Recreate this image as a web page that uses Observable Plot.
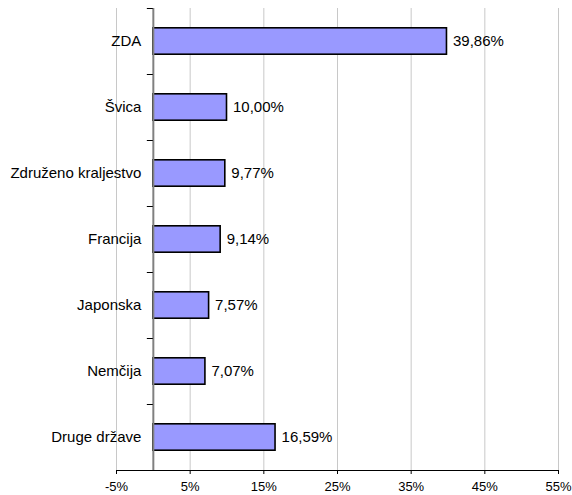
<!DOCTYPE html>
<html>
<head>
<meta charset="utf-8">
<script src="https://cdn.jsdelivr.net/npm/d3@7"></script>
<script src="https://cdn.jsdelivr.net/npm/@observablehq/plot@0.6"></script>
<style>
  html, body { margin: 0; padding: 0; background: #fff; }
  svg { display: block; }
</style>
</head>
<body>
<div id="chart"></div>
<script>
const countries = ["ZDA", "Švica", "Združeno kraljestvo", "Francija", "Japonska", "Nemčija", "Druge države"];
const shares = [39.86, 10.00, 9.77, 9.14, 7.57, 7.07, 16.59];
const xTicks = [-5, 5, 15, 25, 35, 45, 55];

const data = countries.map((c, i) => ({ name: c, i, value: shares[i] }));
const boundaries = d3.range(countries.length + 1).map(k => k - 0.5);
const fmt = v => v.toFixed(2).replace(".", ",") + "%";

const chart = Plot.plot({
  width: 572,
  height: 495,
  marginLeft: 116,
  marginRight: 14,
  marginTop: 8,
  marginBottom: 25,
  style: { fontFamily: "'Liberation Sans', Arial, sans-serif", fontSize: "15px", color: "#000", background: "#fff" },
  x: { domain: [-5, 55] },
  y: { domain: [-0.5, countries.length - 0.5], reverse: true, axis: null },
  marks: [
    Plot.gridX(xTicks, { stroke: "#c8c8c8", strokeOpacity: 1, strokeWidth: 1 }),
    Plot.rectX(data, { x1: 0, x2: "value", y1: d => d.i - 0.2, y2: d => d.i + 0.2, fill: "#9999ff", stroke: "#000", strokeWidth: 1.6 }),
    Plot.text(data, { x: "value", y: "i", text: d => fmt(d.value), textAnchor: "start", dx: 6, fill: "#000", fontSize: 15 }),
    Plot.ruleX([0], { stroke: "#808080", strokeWidth: 2 }),
    Plot.ruleY(boundaries, { x1: 0, x2: 0, insetLeft: -6, stroke: "#000", strokeWidth: 1 }),
    Plot.text(data, { x: 0, y: "i", text: "name", textAnchor: "end", dx: -12, fill: "#000", fontSize: 15 }),
    Plot.axisX(xTicks, { tickSize: 4, tickFormat: d => d + "%", label: null, tickPadding: 7, fill: "#000", fontSize: 13 }),
    Plot.ruleY([countries.length - 0.5], { x1: -5, x2: 55, stroke: "#000", strokeWidth: 1.2 })
  ]
});
document.getElementById("chart").appendChild(chart);
</script>
</body>
</html>
